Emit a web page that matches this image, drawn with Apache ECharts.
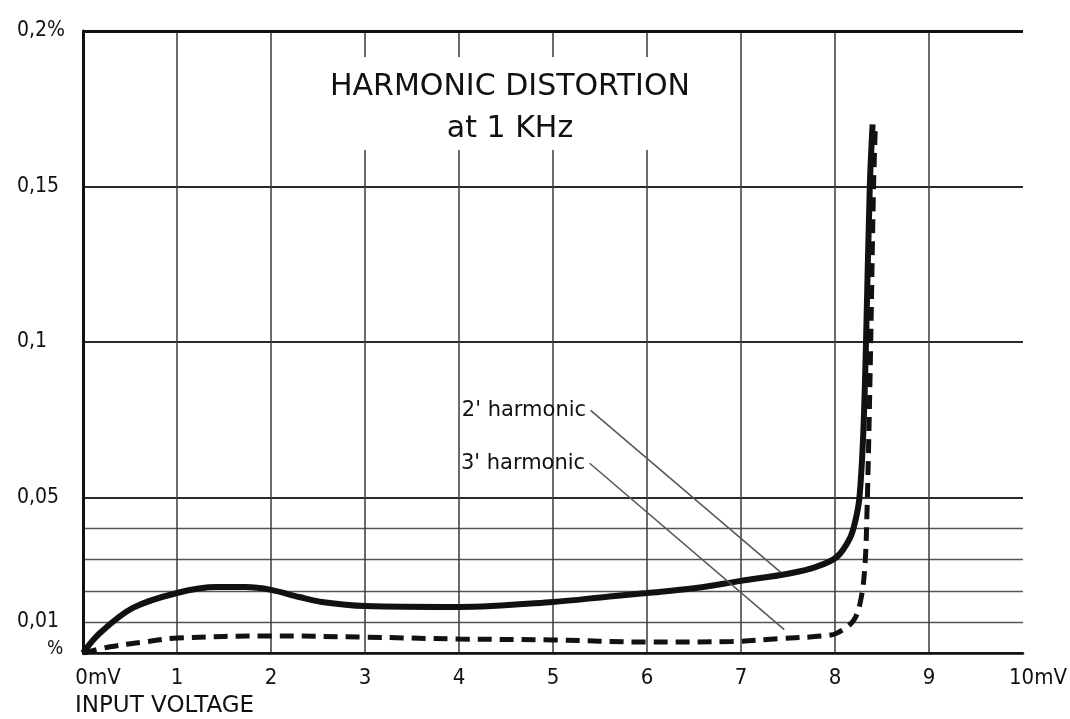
<!DOCTYPE html>
<html>
<head>
<meta charset="utf-8">
<script src="https://cdn.jsdelivr.net/npm/echarts@6/dist/echarts.min.js"></script>
<style>
html,body{margin:0;padding:0;background:#fff;}
#chart{width:1070px;height:719px;}
</style>
</head>
<body>
<div id="chart"></div>
<script>
// ---- data ----
const titleText = 'HARMONIC DISTORTION\nat 1 KHz';
const xAxisTitle = 'INPUT VOLTAGE';
const xTicks = [0,1,2,3,4,5,6,7,8,9,10];
const xTickLabels = ['0mV','1','2','3','4','5','6','7','8','9','10mV'];
const yTickValues = [0, 0.01, 0.05, 0.1, 0.15, 0.2];
const yTickLabels = ['%', '0,01', '0,05', '0,1', '0,15', '0,2%'];

const secondX = [0, 0.18, 0.53, 1.0, 1.42, 1.73, 2.0, 2.3, 2.54, 3.0, 4.0, 5.0, 5.6, 6.0, 6.5, 7.0, 7.5, 7.8, 8.02, 8.16, 8.22, 8.26, 8.3, 8.33, 8.37, 8.40];
const secondY = [0, 0.0064, 0.0145, 0.0193, 0.0212, 0.0212, 0.0203, 0.018, 0.0164, 0.0151, 0.0148, 0.0164, 0.0182, 0.0193, 0.0208, 0.0232, 0.0255, 0.0277, 0.0309, 0.037, 0.043, 0.05, 0.07, 0.1, 0.15, 0.17];

const thirdX = [0, 0.29, 0.64, 1.0, 2.0, 3.0, 4.0, 5.0, 6.0, 6.9, 7.4, 7.88, 8.02, 8.2, 8.28, 8.32, 8.34, 8.36, 8.38, 8.41, 8.43];
const thirdY = [0, 0.002, 0.0035, 0.0048, 0.0055, 0.0051, 0.0045, 0.0042, 0.0035, 0.0037, 0.0046, 0.0055, 0.0064, 0.0106, 0.018, 0.029, 0.045, 0.07, 0.1, 0.15, 0.17];

const secondLabel = "2' harmonic";
const thirdLabel = "3' harmonic";
const secondLeader = [[5.40, 0.078], [7.42, 0.026]];
const thirdLeader = [[5.39, 0.061], [7.46, 0.0075]];

// ---- chart ----
const fontC = "'DejaVu Sans Condensed', 'Liberation Sans Narrow', 'DejaVu Sans', sans-serif";
const fontW = "'DejaVu Sans', 'Liberation Sans', sans-serif";
const ink = '#111';
const gridDark = '#2a2a2a';
const gridLight = '#555';
const clear = 'rgba(0,0,0,0)';

const yLabelMap = {};
yTickValues.forEach((v, i) => { yLabelMap[Math.round(v * 100)] = yTickLabels[i]; });
const xLabelMap = {};
xTicks.forEach((v, i) => { xLabelMap[v] = xTickLabels[i]; });

// minor split lines (interval 0.01) only below 0.05
const yMinorColors = [];
for (let i = 0; i <= 20; i++) yMinorColors.push(i > 0 && i < 5 ? gridLight : clear);
const xSplitColors = xTicks.map(v => v === 10 ? clear : '#3a3a3a');

const chart = echarts.init(document.getElementById('chart'), null, {renderer: 'canvas'});
chart.setOption({
  backgroundColor: '#fff',
  animation: false,
  title: [{
    text: titleText,
    left: 496,
    top: 57,
    textAlign: 'center',
    backgroundColor: '#fff',
    padding: [9, 14, 0, 14],
    textStyle: {fontFamily: fontW, fontSize: 30, fontWeight: 'normal', color: ink, lineHeight: 42}
  }, {
    text: xAxisTitle,
    left: 75,
    top: 695,
    padding: 0,
    textStyle: {fontFamily: fontW, fontSize: 23, fontWeight: 'normal', color: ink}
  }],
  grid: {left: 83, right: 43, top: 31, bottom: 66, containLabel: false},
  xAxis: {
    type: 'value', min: 0, max: 10, interval: 1,
    axisLine: {show: true, lineStyle: {color: ink, width: 2.5}},
    axisTick: {show: false},
    splitLine: {show: true, lineStyle: {color: xSplitColors, width: 1.5}},
    axisLabel: {
      margin: 14,
      fontFamily: fontC, fontSize: 22, color: ink,
      formatter: v => {
        const t = xLabelMap[Math.round(v)];
        if (v === 0 || v === 10) return '{u|' + t + '}';
        return t;
      },
      rich: {u: {fontFamily: fontC, fontSize: 22, color: ink, padding: [0, 0, 0, 30]}}
    }
  },
  yAxis: [{
    type: 'value', min: 0, max: 0.2, interval: 0.01,
    axisLine: {show: true, lineStyle: {color: ink, width: 3}},
    axisTick: {show: false},
    splitLine: {show: true, lineStyle: {color: yMinorColors, width: 1.3}},
    axisLabel: {
      margin: 66, align: 'left',
      fontFamily: fontC, fontSize: 21, color: ink,
      formatter: v => {
        const k = Math.round(v * 100);
        const t = yLabelMap[k];
        if (t === undefined) return '';
        if (k === 0) return '{p|' + t + '}';
        return t;
      },
      rich: {p: {fontFamily: fontC, fontSize: 19, color: ink, padding: [0, 0, 8, 30]}}
    }
  }, {
    type: 'value', min: 0, max: 0.2, interval: 0.05, position: 'left',
    axisLine: {show: false}, axisTick: {show: false}, axisLabel: {show: false},
    splitLine: {show: true, lineStyle: {color: gridDark, width: 2.2}}
  }],
  series: [{
    name: secondLabel,
    type: 'line',
    data: secondX.map((x, i) => [x, secondY[i]]),
    showSymbol: false,
    smooth: 0.35,
    lineStyle: {color: ink, width: 6},
    markLine: {
      silent: true, symbol: ['none', 'none'],
      lineStyle: {color: '#555', width: 1.5, type: 'solid'},
      label: {show: false},
      data: [[{coord: secondLeader[0]}, {coord: secondLeader[1]}]]
    },
    markPoint: {
      symbol: 'circle', symbolSize: 1,
      itemStyle: {color: clear},
      label: {show: true, position: 'left', distance: 4, formatter: secondLabel,
        fontFamily: fontW, fontSize: 21, color: ink},
      data: [{coord: secondLeader[0]}]
    },
    z: 3
  }, {
    name: thirdLabel,
    type: 'line',
    data: thirdX.map((x, i) => [x, thirdY[i]]),
    showSymbol: false,
    smooth: 0.35,
    lineStyle: {color: ink, width: 5, type: [14, 8]},
    markLine: {
      silent: true, symbol: ['none', 'none'],
      lineStyle: {color: '#555', width: 1.5, type: 'solid'},
      label: {show: false},
      data: [[{coord: thirdLeader[0]}, {coord: thirdLeader[1]}]]
    },
    markPoint: {
      symbol: 'circle', symbolSize: 1,
      itemStyle: {color: clear},
      label: {show: true, position: 'left', distance: 4, formatter: thirdLabel,
        fontFamily: fontW, fontSize: 21, color: ink},
      data: [{coord: thirdLeader[0]}]
    },
    z: 3
  }, {
    // top border line at 0.2
    type: 'line', data: [], silent: true,
    markLine: {
      silent: true, symbol: ['none', 'none'],
      lineStyle: {color: ink, width: 3, type: 'solid'},
      label: {show: false},
      data: [{yAxis: 0.2}]
    }
  }]
});
</script>
</body>
</html>
